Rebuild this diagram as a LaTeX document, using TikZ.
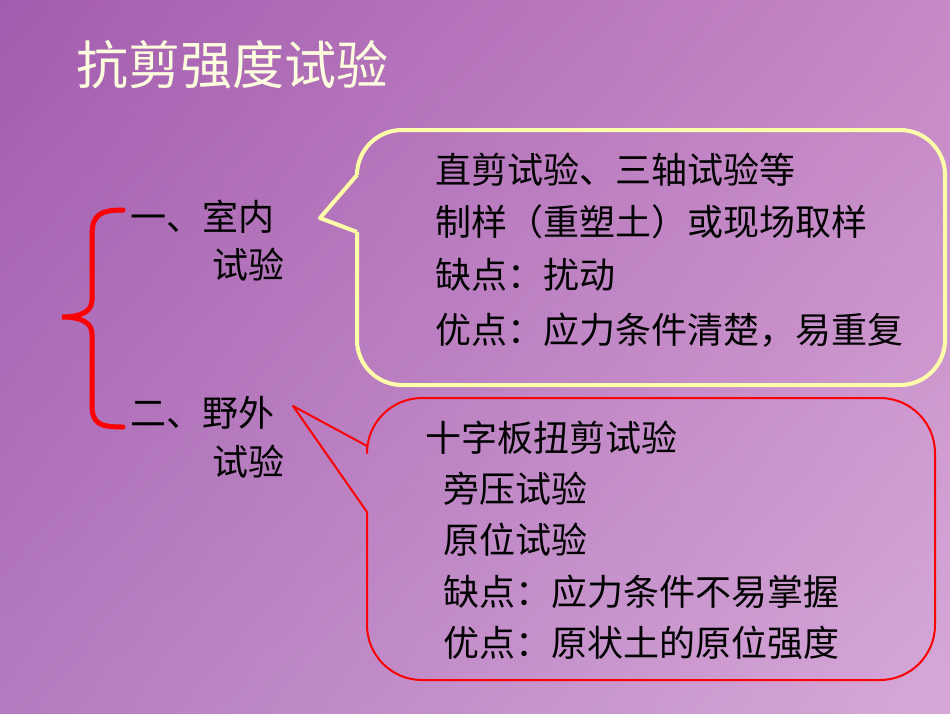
\documentclass[tikz,border=0pt]{standalone}
\usepackage{fontspec}
\usetikzlibrary{shadings}
\newfontfamily\cjk{Noto Sans CJK SC}
\definecolor{ul}{HTML}{A35DAE}
\definecolor{ur}{HTML}{C688C6}
\definecolor{ll}{HTML}{B47ABF}
\definecolor{lr}{HTML}{D6A8D8}
\definecolor{yel}{HTML}{FFFFAA}
\definecolor{ttl}{HTML}{FFFFE0}
\tikzset{
  body/.style={anchor=west,inner sep=0pt,font=\cjk\fontsize{36}{40}\selectfont,text=black},
  title/.style={anchor=west,inner sep=0pt,font=\cjk\fontsize{52}{56}\selectfont,text=ttl},
  ybub/.style={draw=yel,line width=4pt,line join=round},
  rbub/.style={draw=red,line width=2pt,line join=round},
}
\begin{document}
\begin{tikzpicture}[x=1pt,y=-1pt]
\shade[upper left=ul,upper right=ur,lower left=ll,lower right=lr] (0,0) rectangle (950,713);
\useasboundingbox (0,0) rectangle (950,713);
\node[title] (t) at (76,65) {抗剪强度试验};
% brace
\draw[red,line width=5pt,line cap=round] (123,210) .. controls (100,210) and (92,215) .. (92,235) -- (92,300) .. controls (92,312) and (80,317) .. (62,317) .. controls (80,317) and (92,322) .. (92,334) -- (92,405) .. controls (92,424) and (100,427) .. (123,427);
\node[body] (a1) at (130,217) {一、室内};
\node[body] (a2) at (212,265) {试验};
\node[body] (b1) at (130,413) {二、野外};
\node[body] (b2) at (212,462) {试验};
% yellow bubble
\draw[ybub,rounded corners=45pt] (357,175) -- (357,130) -- (945,130) -- (945,385) -- (357,385) -- (357,232);
\draw[ybub] (357,175) -- (320,218) -- (357,232);
% red bubble
\draw[rbub,rounded corners=55pt] (367,446) -- (367,398) -- (935,398) -- (935,680) -- (367,680) -- (367,512);
\draw[rbub] (367,446) -- (293,406) -- (367,512);
\node[body] (p1) at (435,170) {直剪试验、三轴试验等};
\node[body] (p2) at (435,222) {制样（重塑土）或现场取样};
\node[body] (p3) at (435,275) {缺点：扰动};
\node[body] (p4) at (435,330) {优点：应力条件清楚，易重复};
\node[body] (q1) at (425,438) {十字板扭剪试验};
\node[body] (q2) at (443,489) {旁压试验};
\node[body] (q3) at (443,540) {原位试验};
\node[body] (q4) at (443,592) {缺点：应力条件不易掌握};
\node[body] (q5) at (443,643) {优点：原状土的原位强度};
\end{tikzpicture}
\end{document}
